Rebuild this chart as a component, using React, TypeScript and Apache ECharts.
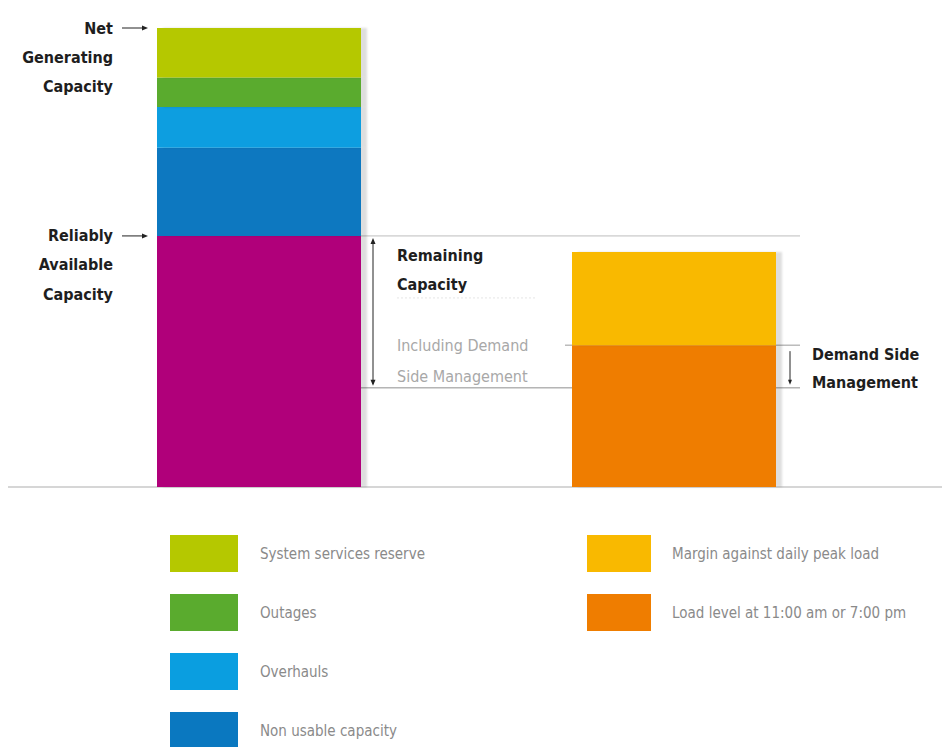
import React, { useEffect, useRef } from 'react';
import * as echarts from 'echarts';

// ---- data (arbitrary capacity units, 100 = net generating capacity) ----
const categories = ['Generating capacity', 'Load'];
const reliablyAvailable = [54.7, null];
const nonUsable = [19.2, null];
const overhauls = [8.9, null];
const outages = [6.4, null];
const systemReserve = [10.8, null];
const loadLevel = [null, 30.9];
const peakMargin = [null, 20.3];
const loadAfterDsm = 21.6;

const leftLegend = ['System services reserve', 'Outages', 'Overhauls', 'Non usable capacity'];
const rightLegend = ['Margin against daily peak load', 'Load level at 11:00 am or 7:00 pm'];

const FONT = '"Liberation Sans Narrow", "DejaVu Sans Condensed", "Arial Narrow", "Roboto", sans-serif';

const BAR_W = 204;

export default function App() {
  const ref = useRef<HTMLDivElement>(null);
  useEffect(() => {
    document.body.style.margin = '0';
    const chart = echarts.init(ref.current!, undefined, { renderer: 'svg' });
    const shadow = {
      shadowColor: 'rgba(0,0,0,0.13)',
      shadowOffsetX: 6,
      shadowOffsetY: 0,
      shadowBlur: 2,
    };
    const mk = (name: string, data: (number | null)[], color: string) => ({
      name,
      type: 'bar',
      stack: 'total',
      barWidth: BAR_W,
      data: data.map((v) => (v == null ? '-' : v)),
      itemStyle: { color, ...shadow },
      emphasis: { disabled: true },
    });
    const legendText = { color: '#8a8a8a', fontSize: 15, fontFamily: FONT };
    chart.setOption({
      animation: false,
      backgroundColor: '#ffffff',
      grid: { left: 51.5, width: 830, top: 28, height: 459, containLabel: false },
      xAxis: {
        type: 'category',
        data: categories,
        axisLine: { show: false },
        axisTick: { show: false },
        axisLabel: { show: false },
      },
      yAxis: { type: 'value', min: 0, max: 100, show: false },
      legend: [
        {
          data: leftLegend,
          orient: 'vertical',
          left: 170,
          top: 535,
          height: 260,
          padding: 0,
          itemWidth: 68,
          itemHeight: 37,
          itemGap: 22,
          icon: 'rect',
          selectedMode: false,
          itemStyle: { shadowBlur: 0, shadowOffsetX: 0, shadowColor: 'transparent' },
          textStyle: { ...legendText, padding: [0, 0, 0, 17] },
        },
        {
          data: rightLegend,
          orient: 'vertical',
          left: 587,
          top: 535,
          height: 260,
          padding: 0,
          itemWidth: 64,
          itemHeight: 37,
          itemGap: 22,
          icon: 'rect',
          selectedMode: false,
          itemStyle: { shadowBlur: 0, shadowOffsetX: 0, shadowColor: 'transparent' },
          textStyle: { ...legendText, padding: [0, 0, 0, 16] },
        },
      ],
      series: [
        mk('Reliably available capacity', reliablyAvailable, '#b0007a'),
        mk('Non usable capacity', nonUsable, '#0a78c0'),
        mk('Overhauls', overhauls, '#0a9ee0'),
        mk('Outages', outages, '#5aab2e'),
        mk('System services reserve', systemReserve, '#b5c800'),
        mk('Load level at 11:00 am or 7:00 pm', loadLevel, '#ef7d00'),
        mk('Margin against daily peak load', peakMargin, '#f9b900'),
      ],
    });

    const px = (cat: string, v: number) => chart.convertToPixel({ gridIndex: 0 }, [cat, v]) as number[];
    const total = (reliablyAvailable[0] as number) + (nonUsable[0] as number) + (overhauls[0] as number) +
      (outages[0] as number) + (systemReserve[0] as number);
    const leftX = px(categories[0], 0)[0];
    const rightX = px(categories[1], 0)[0];
    const leftEdge = leftX + BAR_W / 2;
    const rightBarLeft = rightX - BAR_W / 2;
    const y0 = px(categories[0], 0)[1];
    const yNet = px(categories[0], total)[1];
    const yRel = px(categories[0], reliablyAvailable[0] as number)[1];
    const yLoad = px(categories[1], loadLevel[1] as number)[1];
    const yDsm = px(categories[1], loadAfterDsm)[1];

    const boldText = (text: string, x: number, y: number, align: string) => ({
      type: 'text',
      x,
      y,
      silent: true,
      style: {
        text,
        align,
        verticalAlign: 'middle',
        fill: '#1e1e1e',
        fontSize: 16,
        fontWeight: 'bold',
        fontFamily: FONT,
      },
    });
    const hline = (x1: number, x2: number, y: number, stroke: string) => ({
      type: 'line',
      silent: true,
      shape: { x1, y1: y, x2, y2: y },
      style: { stroke, lineWidth: 1 },
    });
    const arrowRight = (x1: number, x2: number, y: number) => [
      { type: 'line', silent: true, shape: { x1, y1: y, x2: x2 - 5, y2: y }, style: { stroke: '#222', lineWidth: 1 } },
      { type: 'polygon', silent: true, shape: { points: [[x2 - 6, y - 2.5], [x2, y], [x2 - 6, y + 2.5]] }, style: { fill: '#222' } },
    ];
    const lightText = (text: string, y: number) => ({
      type: 'text',
      x: 397,
      y,
      silent: true,
      style: { text, align: 'left', verticalAlign: 'middle', fill: '#a8a8a8', fontSize: 16, fontFamily: FONT },
    });

    const graphic: any[] = [
      // baseline
      { type: 'line', silent: true, shape: { x1: 8, y1: y0, x2: 942, y2: y0 }, style: { stroke: '#c9c9c9', lineWidth: 1.5 } },
      // reference lines
      hline(leftEdge, 800, yRel, '#bdbdbd'),
      hline(rightBarLeft - 7, 800, yLoad, '#9a9a9a'),
      hline(leftEdge, 800, yDsm, '#8f8f8f'),
      // left labels
      boldText('Net', 113, yNet, 'right'),
      boldText('Generating', 113, yNet + 29, 'right'),
      boldText('Capacity', 113, yNet + 58, 'right'),
      ...arrowRight(122, 148, yNet),
      boldText('Reliably', 113, yRel, 'right'),
      boldText('Available', 113, yRel + 29, 'right'),
      boldText('Capacity', 113, yRel + 59, 'right'),
      ...arrowRight(122, 148, yRel),
      // remaining capacity double arrow
      { type: 'line', silent: true, shape: { x1: 373, y1: yRel + 4, x2: 373, y2: yDsm - 4 }, style: { stroke: '#222', lineWidth: 1 } },
      { type: 'polygon', silent: true, shape: { points: [[370.5, yRel + 8], [373, yRel + 2], [375.5, yRel + 8]] }, style: { fill: '#222' } },
      { type: 'polygon', silent: true, shape: { points: [[370.5, yDsm - 8], [373, yDsm - 2], [375.5, yDsm - 8]] }, style: { fill: '#222' } },
      boldText('Remaining', 397, yRel + 20, 'left'),
      boldText('Capacity', 397, yRel + 49, 'left'),
      { type: 'line', silent: true, shape: { x1: 397, y1: yRel + 62, x2: 537, y2: yRel + 62 }, style: { stroke: '#e6e6e6', lineWidth: 1, lineDash: [2, 2] } },
      lightText('Including Demand', yLoad),
      lightText('Side Management', yLoad + 31),
      // demand side management arrow
      { type: 'line', silent: true, shape: { x1: 790, y1: yLoad + 6, x2: 790, y2: yDsm - 6 }, style: { stroke: '#222', lineWidth: 1 } },
      { type: 'polygon', silent: true, shape: { points: [[788, yDsm - 8], [790, yDsm - 3], [792, yDsm - 8]] }, style: { fill: '#222' } },
      boldText('Demand Side', 812, yLoad + 9, 'left'),
      boldText('Management', 812, yLoad + 37, 'left'),
    ];
    chart.setOption({ graphic });

    return () => chart.dispose();
  }, []);
  return <div ref={ref} style={{ width: 942, height: 747 }} />;
}
